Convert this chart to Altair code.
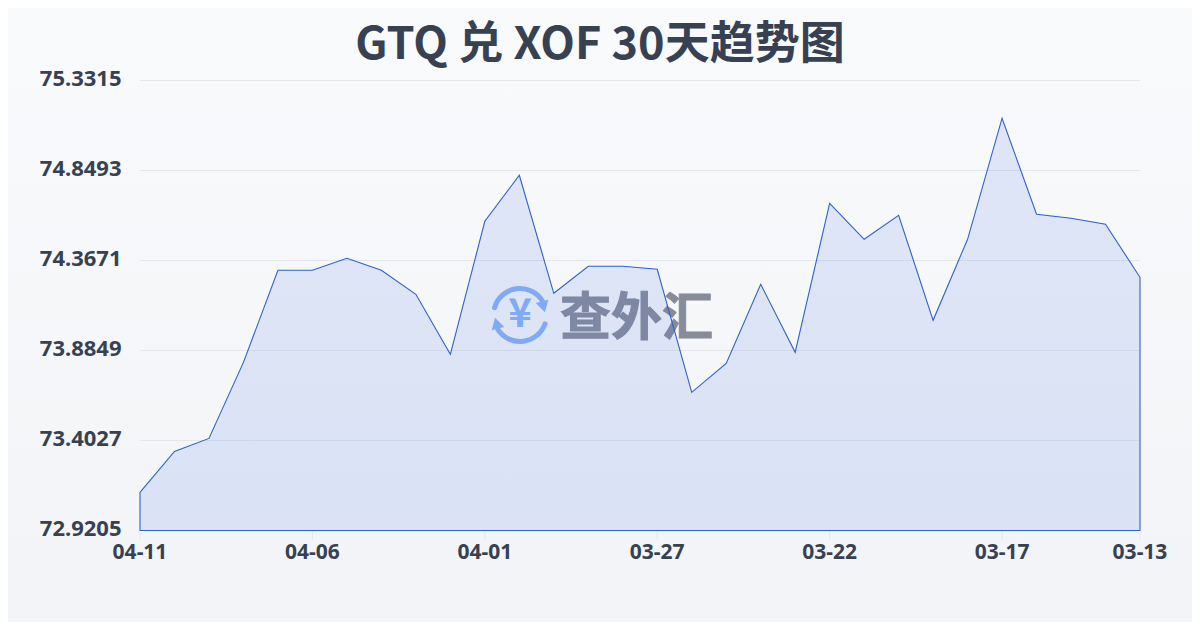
import altair as alt
import pandas as pd

title = "GTQ 兑 XOF 30天趋势图"
dates = ["04-11","04-10","04-09","04-08","04-07","04-06","04-05","04-04","04-03","04-02",
         "04-01","03-31","03-30","03-29","03-28","03-27","03-26","03-25","03-24","03-23",
         "03-22","03-21","03-20","03-19","03-18","03-17","03-16","03-15","03-14","03-13"]
rates = [73.1245,73.3442,73.4139,73.8213,74.3146,74.3146,74.3789,74.3146,74.1860,73.8642,
         74.5773,74.8239,74.1914,74.3361,74.3361,74.3200,73.6605,73.8160,74.2396,73.8749,
         74.6738,74.4808,74.6095,74.0466,74.4808,75.1295,74.6148,74.5934,74.5612,74.2771]
y_ticks = [72.9205,73.4027,73.8849,74.3671,74.8493,75.3315]
x_ticks = ["04-11","04-06","04-01","03-27","03-22","03-17","03-13"]

W, H = 1000, 450
LEFT, TOP = 132, 72.5
TOTAL_W, TOTAL_H = 1184, 614
FONT = "Noto Sans CJK SC"
AXFONT = "Noto Sans"
INK = "#374151"
BLUE = "#8ab4f8"

df = pd.DataFrame({"date": dates, "rate": rates, "base": [y_ticks[0]] * len(dates)})
grid_df = pd.DataFrame({"v": y_ticks})
xtick_df = pd.DataFrame({"date": x_ticks})
one = df.head(1)

y_scale = alt.Scale(domain=[y_ticks[0], y_ticks[-1]], zero=False, nice=False)
y_axis = alt.Axis(values=y_ticks, format=".4f", labelFont=AXFONT, labelFontSize=22,
                  labelFontWeight="bold", labelColor=INK, ticks=False, domain=False,
                  grid=False, labelPadding=19, labelOffset=-2, zindex=1)
x = alt.X("date:O", scale=alt.Scale(type="point", padding=0, domain=dates), title=None, axis=None)

def px(v):
    return alt.value(v - 8 - LEFT)

def py(v):
    return alt.value(v - 8 - TOP)

bg = alt.Chart(one).mark_rect(
    color=alt.Gradient(gradient="linear", x1=0, x2=0, y1=0, y2=1,
                       stops=[alt.GradientStop(color="#f8fafc", offset=0),
                              alt.GradientStop(color="#f2f4f7", offset=1)])
).encode(x=alt.value(-LEFT), x2=alt.value(TOTAL_W - LEFT), y=alt.value(-TOP), y2=alt.value(TOTAL_H - TOP))

title_mark = alt.Chart(one).mark_text(text=title, font=FONT, fontSize=45, fontWeight="bold", color=INK,
                                      align="center", baseline="middle").encode(x=px(600), y=py(45))

grid = alt.Chart(grid_df).mark_rule(color="#e5e7eb", strokeWidth=1).encode(
    y=alt.Y("v:Q", scale=y_scale, axis=y_axis, title=None))

area = alt.Chart(df).mark_area(fill="#4474e0", fillOpacity=0.14, stroke="#2f62c8", strokeWidth=1.1).encode(
    x=x, y=alt.Y("rate:Q", scale=y_scale, axis=y_axis, title=None), y2=alt.Y2("base:Q"))

x_tick_marks = alt.Chart(xtick_df).mark_rule(color="#e5e7eb", strokeWidth=1).encode(
    x=x, y=py(531), y2=py(540))
x_tick_labels = alt.Chart(xtick_df).mark_text(font=AXFONT, fontSize=21, fontWeight="bold", color=INK,
                                              align="center", baseline="middle").encode(
    x=x, y=py(553), text="date:N")

wm_text = alt.Chart(one).mark_text(text="查外汇", font=FONT, fontWeight="bold", fontSize=51,
                                   color="#878c99", stroke="#878c99", strokeWidth=1,
                                   align="left", baseline="middle").encode(x=px(560), y=py(320))
yen = alt.Chart(one).mark_text(text="¥", font=FONT, fontWeight="bold", fontSize=40,
                               color=BLUE, align="center", baseline="middle").encode(x=px(520), y=py(315))
arc1 = alt.Chart(one).mark_arc(radius=29, radius2=24, theta=4.9, theta2=7.38, color=BLUE, cornerRadius=2).encode(
    x=px(520), y=py(315))
arc2 = alt.Chart(one).mark_arc(radius=29, radius2=24, theta=1.82, theta2=4.2, color=BLUE, cornerRadius=2).encode(
    x=px(520), y=py(315))
tri1 = alt.Chart(one).mark_point(shape="triangle", filled=True, size=170, angle=165, opacity=1, color=BLUE).encode(
    x=px(543), y=py(305))
tri2 = alt.Chart(one).mark_point(shape="triangle", filled=True, size=170, angle=345, opacity=1, color=BLUE).encode(
    x=px(497), y=py(325))

chart = alt.layer(bg, title_mark, grid, wm_text, arc1, arc2, tri1, tri2, yen, area,
                  x_tick_marks, x_tick_labels).properties(
    width=W, height=H,
    autosize=alt.AutoSizeParams(type="none"),
    padding={"left": LEFT, "top": TOP, "right": TOTAL_W - LEFT - W, "bottom": TOTAL_H - TOP - H},
).configure_view(stroke=None)

chart.save("out.html", embed_options={"renderer": "svg", "actions": False})
